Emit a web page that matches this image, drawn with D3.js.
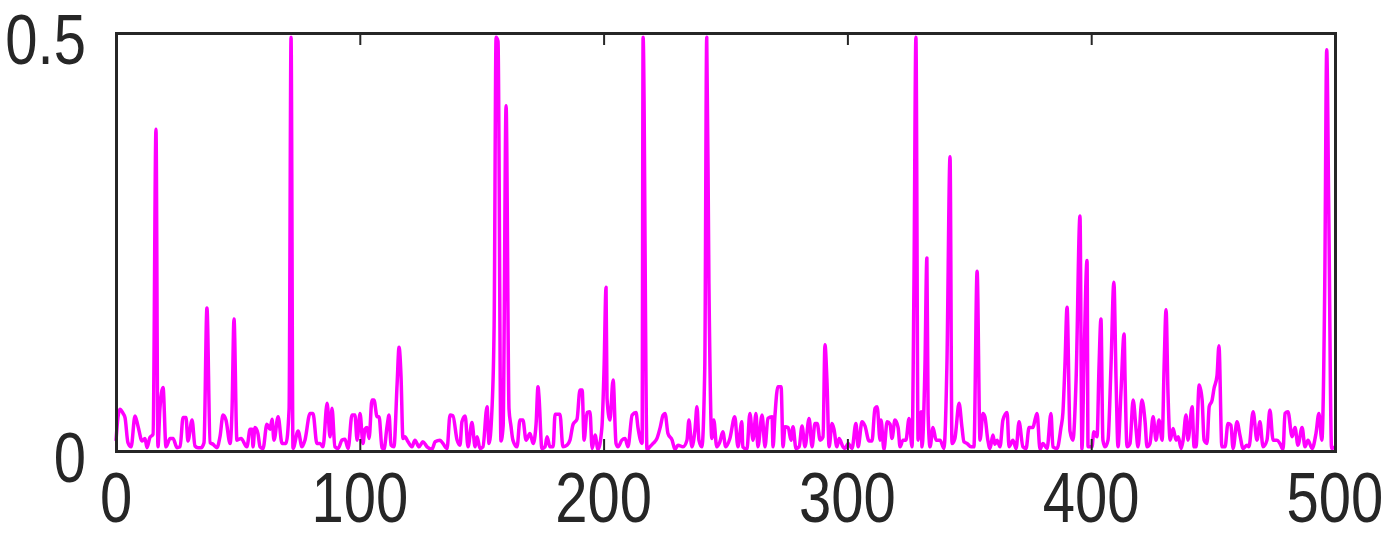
<!DOCTYPE html>
<html><head><meta charset="utf-8">
<script src="https://cdn.jsdelivr.net/npm/d3@7"></script>
<style>html,body{margin:0;padding:0;background:#fff;}svg{display:block;}</style>
</head><body>
<script>
const xTicks = [0,100,200,300,400,500];
const yTicks = [0,0.5];
const xTickLabels = ["0","100","200","300","400","500"];
const yTickLabels = ["0","0.5"];
const xs = [0,0.8,1.6,2.9,3.7,4.9,6.2,7.8,9.0,10.7,11.9,12.7,13.9,15.2,16.4,17.2,18.0,19.3,20.5,22.2,23.4,25.0,26.3,27.5,28.7,29.5,31.2,32.4,33.6,34.9,36.1,37.3,38.6,39.8,41.4,42.7,43.9,
45.1,46.8,47.6,48.4,49.6,51.3,53.7,55.0,55.8,56.2,57.0,58.2,59.1,60.3,61.9,63.2,64.0,64.8,66.5,68.1,69.7,71.0,71.8,72.6,74.7,76.3,77.5,79.6,80.8,82.4,83.7,84.9,86.6,87.8,88.6,
89.8,91.1,92.7,93.9,95.2,96.8,98.0,98.9,100.1,101.3,102.1,103.0,103.8,105.0,105.8,107.1,107.9,109.1,109.9,111.2,112.0,112.8,114.0,115.3,116.1,116.9,117.7,118.5,119.8,121.4,122.6,124.3,125.9,127.6,129.6,130.9,132.9,134.1,
135.8,137.0,138.2,139.9,141.1,141.9,143.2,144.4,146.0,147.3,148.1,149.3,150.5,152.2,153.0,154.2,155.1,155.9,156.7,157.9,158.8,160.0,161.2,162.0,162.8,164.5,165.7,166.9,168.2,169.8,171.1,172.3,173.1,173.5,174.7,176.0,176.8,178.0,179.3,
180.1,182.1,183.3,185.0,186.2,187.5,189.1,190.3,191.2,192.0,193.2,194.4,195.3,196.5,197.7,199.3,200.2,201.0,201.4,202.6,203.9,205.1,205.9,207.5,208.8,210.0,211.7,213.3,214.1,215.8,216.2,217.8,219.0,220.3,221.9,223.2,224.4,
225.2,226.4,228.1,229.3,230.5,232.6,234.2,235.0,236.2,237.5,238.3,239.1,240.3,241.5,242.3,243.2,244.4,245.2,246.4,247.7,248.9,250.1,251.8,253.8,255.1,256.7,257.1,258.8,260.0,261.3,262.5,263.3,265.0,266.2,267.4,269.1,269.5,
270.3,271.5,272.8,273.6,274.4,275.7,276.9,277.7,278.9,280.2,281.4,282.6,284.3,285.5,286.7,287.6,288.8,290.0,290.8,291.6,292.5,293.7,294.5,295.7,296.6,298.2,299.0,300.3,301.9,303.5,304.4,306.0,307.2,308.9,310.1,311.3,312.2,313.4,313.8,
315.0,316.3,317.5,318.3,319.5,320.8,321.6,322.8,324.0,325.3,326.5,327.3,328.1,329.0,330.2,330.6,331.8,332.6,333.1,333.9,335.1,336.4,338.0,339.6,340.8,342.1,342.9,344.1,345.8,347.0,347.8,349.1,350.7,351.9,353.2,354.4,355.6,356.4,357.6,358.5,359.7,
360.5,361.4,362.6,363.8,365.5,366.3,367.9,369.2,370.4,372.0,373.3,374.5,376.1,377.0,377.8,379.0,380.2,381.9,383.5,384.3,386.0,387.6,388.4,389.2,390.1,391.3,392.5,393.8,395.4,396.2,397.0,398.3,398.7,400.3,401.1,402.4,403.2,404.0,404.8,
405.7,406.9,408.1,409.3,410.2,411.0,412.2,413.5,413.9,414.7,415.9,417.2,418.4,419.2,420.8,422.1,422.9,424.1,425.4,426.6,427.8,429.1,429.9,430.7,431.5,432.4,433.6,434.8,435.7,436.9,437.7,438.9,439.7,441.4,442.2,443.0,444.3,445.5,446.3,447.5,448.4,449.6,450.4,
451.6,452.4,453.6,454.9,456.1,457.3,458.2,459.8,461.0,462.3,463.9,464.7,466.4,468.0,469.2,470.5,472.1,473.3,474.6,476.2,477.4,478.7,479.5,480.7,482.4,483.6,484.8,486.5,487.7,488.9,490.6,492.2,493.4,494.6,495.8,496.6,497.4,498.6,500];
const ys = [0.012,0.04,0.05,0.045,0.04,0.01,0.005,0.042,0.03,0.012,0.015,0.004,0.016,0.02,0.385,0.005,0.05,0.076,0.005,0.015,0.015,0.004,0.005,0.04,0.04,0.012,0.037,0.006,0.004,0.004,0.01,0.171,0.01,0.008,0.004,0.018,0.043,
0.037,0.009,0.05,0.158,0.013,0.015,0.005,0.026,0.026,0.005,0.028,0.021,0.005,0.003,0.032,0.026,0.038,0.013,0.041,0.009,0.009,0.05,0.495,0.003,0.024,0.005,0.013,0.045,0.045,0.009,0.009,0.005,0.057,0.017,0.051,
0.005,0.003,0.013,0.014,0.003,0.043,0.043,0.013,0.045,0.009,0.026,0.028,0.015,0.061,0.061,0.041,0.041,0.004,0.002,0.03,0.043,0.007,0.005,0.08,0.124,0.09,0.015,0.017,0.011,0.005,0.013,0.005,0.011,0.005,0.002,0.011,0.013,0.009,
0.003,0.043,0.042,0.013,0.007,0.035,0.042,0.005,0.034,0.005,0.017,0.003,0.005,0.053,0.009,0.049,0.15,0.495,0.49,0.012,0.03,0.413,0.05,0.03,0.013,0.005,0.037,0.037,0.013,0.021,0.009,0.032,0.077,0.065,0.003,0.005,0.017,0.005,0.005,
0.044,0.044,0.005,0.007,0.013,0.032,0.038,0.073,0.073,0.013,0.046,0.047,0.003,0.019,0.002,0.028,0.10,0.196,0.063,0.037,0.085,0.009,0.005,0.013,0.015,0.005,0.043,0.046,0.028,0.009,0.495,0.002,0.005,0.009,0.015,0.028,0.043,
0.045,0.021,0.013,0.002,0.007,0.005,0.013,0.037,0.005,0.026,0.053,0.013,0.005,0.1,0.495,0.2,0.015,0.037,0.005,0.011,0.023,0.005,0.015,0.041,0.005,0.035,0.005,0.002,0.045,0.013,0.045,0.005,0.043,0.005,0.039,0.041,0.005,
0.043,0.077,0.077,0.005,0.029,0.028,0.013,0.029,0.003,0.005,0.030,0.005,0.039,0.005,0.033,0.033,0.013,0.017,0.127,0.085,0.005,0.033,0.026,0.005,0.015,0.005,0.003,0.009,0.003,0.033,0.005,0.035,0.030,0.012,0.012,0.051,0.053,0.013,0.037,
0.002,0.035,0.032,0.015,0.037,0.028,0.005,0.013,0.013,0.039,0.005,0.2,0.495,0.013,0.047,0.005,0.1,0.231,0.045,0.005,0.028,0.013,0.013,0.003,0.1,0.352,0.009,0.015,0.057,0.028,0.011,0.009,0.005,0.005,0.215,0.013,0.045,0.041,0.013,0.003,0.019,
0.008,0.013,0.005,0.037,0.046,0.005,0.013,0.003,0.035,0.005,0.003,0.028,0.028,0.038,0.045,0.002,0.009,0.003,0.045,0.005,0.003,0.028,0.046,0.1,0.172,0.024,0.013,0.085,0.281,0.002,0.1,0.228,0.005,0.005,0.023,0.017,0.1,0.158,0.013,
0.005,0.013,0.1,0.202,0.085,0.005,0.07,0.14,0.085,0.005,0.009,0.061,0.026,0.005,0.061,0.035,0.005,0.009,0.041,0.013,0.037,0.013,0.1,0.169,0.069,0.013,0.027,0.013,0.017,0.003,0.013,0.043,0.013,0.053,0.005,0.005,0.079,0.061,0.013,0.009,0.053,0.061,0.075,
0.09,0.126,0.005,0.005,0.033,0.031,0.003,0.035,0.019,0.003,0.007,0.005,0.047,0.013,0.035,0.005,0.013,0.049,0.013,0.013,0.009,0.002,0.045,0.047,0.017,0.028,0.007,0.028,0.005,0.013,0.003,0.021,0.045,0.013,0.2,0.48,0.3,0.003,0.005];

const W = 1387, H = 557;
const mg = {left:116, top:33, right:W-1335, bottom:H-451};
const svg = d3.select("body").append("svg").attr("width",W).attr("height",H);
const xScale = d3.scaleLinear().domain([0,500]).range([mg.left, W-mg.right]);
const yScale = d3.scaleLinear().domain([0,0.5]).range([H-mg.bottom, mg.top]);
const axisColor = "#262626";
const n = Math.min(xs.length, ys.length);
const data = xs.slice(0,n).map((d,i)=>({x:d,y:ys[i]}));

const g = svg.append("g");
g.append("path").datum(data)
  .attr("fill","none").attr("stroke","#ff00ff").attr("stroke-width",3.5).attr("stroke-linejoin","round")
  .attr("d", d3.line().curve(d3.curveMonotoneX).x(d=>xScale(d.x)).y(d=>yScale(d.y)));

const tickLen = 12;
const axB = g.append("g").attr("transform",`translate(0,${yScale(0)})`)
  .call(d3.axisBottom(xScale).tickValues(xTicks).tickSize(-tickLen).tickFormat(""));
const axT = g.append("g").attr("transform",`translate(0,${yScale(0.5)})`)
  .call(d3.axisTop(xScale).tickValues(xTicks).tickSize(-tickLen).tickFormat(""));
const axL = g.append("g").attr("transform",`translate(${xScale(0)},0)`)
  .call(d3.axisLeft(yScale).tickValues(yTicks).tickSize(-tickLen).tickFormat(""));
const axR = g.append("g").attr("transform",`translate(${xScale(500)},0)`)
  .call(d3.axisRight(yScale).tickValues(yTicks).tickSize(-tickLen).tickFormat(""));
[axB,axT,axL,axR].forEach(a=>{
  a.select(".domain").attr("stroke",axisColor).attr("stroke-width",3);
  a.selectAll(".tick line").attr("stroke",axisColor).attr("stroke-width",2);
});

const F = 58, sy = 1.22;
const font = "'Liberation Sans', Arial, sans-serif";
g.selectAll("text.xl").data(xTicks).enter().append("text").attr("class","xl")
  .attr("transform", d=>`translate(${xScale(d)},${497 + 0.358*F*sy}) scale(1,${sy})`)
  .attr("text-anchor","middle").attr("font-family",font).attr("font-size",F).attr("fill",axisColor)
  .text((d,i)=>xTickLabels[i]);
g.selectAll("text.yl").data(yTicks).enter().append("text").attr("class","yl")
  .attr("transform", d=>`translate(86,${yScale(d)+6 + 0.358*F*sy}) scale(1,${sy})`)
  .attr("text-anchor","end").attr("font-family",font).attr("font-size",F).attr("fill",axisColor)
  .text((d,i)=>yTickLabels[i]);
</script>
</body></html>
